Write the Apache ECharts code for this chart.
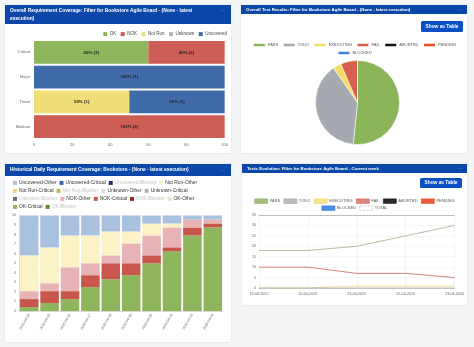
<!DOCTYPE html>
<html><head><meta charset="utf-8">
<script src="https://cdn.jsdelivr.net/npm/echarts@6/dist/echarts.min.js"></script>
<style>
html,body{margin:0;padding:0;background:#f4f5f7;width:474px;height:347px;overflow:hidden}
.p{position:absolute;background:#fff;box-shadow:0 0 1.5px rgba(0,0,0,0.18);border-radius:1px}
</style></head><body>
<div id="c1" class="p" style="left:5px;top:5px;width:226px;height:148px"></div>
<div id="c2" class="p" style="left:241px;top:5px;width:226px;height:148px"></div>
<div id="c3" class="p" style="left:5px;top:164px;width:226px;height:178px"></div>
<div id="c4" class="p" style="left:242px;top:164px;width:225px;height:141px"></div>
<script>
// ---------- data ----------
const covCategories = ['Critical', 'Major', 'Trivial', 'Medium'];
const covOK        = [60, 0, 0, 0];
const covNOK       = [40, 0, 0, 100];
const covNotRun    = [0, 0, 50, 0];
const covUnknown   = [0, 0, 0, 0];
const covUncovered = [0, 100, 50, 0];
const cntOK        = [3, 0, 0, 0];
const cntNOK       = [2, 0, 0, 2];
const cntNotRun    = [0, 0, 1, 0];
const cntUnknown   = [0, 0, 0, 0];
const cntUncovered = [0, 1, 1, 0];
const covTicks = [0, 20, 40, 60, 80, 100];

const testStatus = ['PASS', 'TODO', 'EXECUTING', 'FAIL', 'ABORTED', 'PENDING', 'BLOCKED'];
const testCounts = [16, 12, 1, 2, 0, 0, 0];

const histDates = ['2020-04-14', '2020-04-15', '2020-04-16', '2020-04-17', '2020-04-18',
                   '2020-04-19', '2020-04-20', '2020-04-21', '2020-04-22', '2020-04-23'];
const histOKCritical      = [0.42, 0.83, 1.25, 2.5, 3.33, 3.75, 5, 6.25, 7.92, 8.75];
const histNOKCritical     = [0.83, 1.25, 0.83, 1.25, 1.67, 1.25, 0.83, 0.42, 0.83, 0.42];
const histNOKOther        = [0.83, 0.83, 2.5, 1.25, 0.83, 2.08, 2.08, 2.08, 0.83, 0.42];
const histNotRunOther     = [3.75, 3.75, 3.33, 2.92, 2.5, 1.25, 1.25, 0.42, 0, 0];
const histUncoveredOther  = [4.17, 3.33, 2.08, 2.08, 1.67, 1.67, 0.83, 0.83, 0.42, 0.42];

const evoDates = ['19-04-2020', '20-04-2020', '21-04-2020', '22-04-2020', '23-04-2020'];
const evoPass      = [18, 18, 20, 25, 30];
const evoFail      = [10, 10, 7, 7, 5];
const evoExecuting = [0, 0, 1, 1, 1];
const evoTodo      = [0, 0, 0, 0, 0];

// ---------- styles ----------
const FF = '"Liberation Sans", Arial, Helvetica, sans-serif';
const HEAD = '#0b47a8';
const BTN = '#0a4fc4';

function header(w, h, lines, fs, ys) {
  const els = [{type: 'rect', silent: true, shape: {x: 0, y: 0, width: w, height: h}, style: {fill: HEAD}}];
  lines.forEach((t, i) => els.push({type: 'text', silent: true, x: 5, y: ys[i],
    style: {text: t, fill: '#fff', fontSize: fs, fontWeight: 'bold', fontFamily: FF, verticalAlign: 'middle'}}));
  els.push({type: 'text', silent: true, x: w - 5, y: ys[0],
    style: {text: '···', fill: '#9db3dd', fontSize: fs + 1, fontFamily: FF, align: 'right', verticalAlign: 'middle'}});
  return els;
}
function button(x, y, w, h, fs) {
  return [
    {type: 'rect', silent: true, shape: {x: x, y: y, width: w, height: h, r: 1.5}, style: {fill: BTN}},
    {type: 'text', silent: true, x: x + w / 2, y: y + h / 2,
     style: {text: 'Show as Table', fill: '#fff', fontSize: fs, fontWeight: 'bold', fontFamily: FF, align: 'center', verticalAlign: 'middle'}}
  ];
}

// ---------- panel 1 ----------
const covColors = {OK: '#8fb65c', NOK: '#cd5e55', 'Not Run': '#f0df79', Unknown: '#b4b4b4', Uncovered: '#3f6ca8'};
const covSets = [['OK', covOK, cntOK], ['NOK', covNOK, cntNOK], ['Not Run', covNotRun, cntNotRun],
                 ['Unknown', covUnknown, cntUnknown], ['Uncovered', covUncovered, cntUncovered]];
const c1 = echarts.init(document.getElementById('c1'));
c1.setOption({
  animation: false,
  textStyle: {fontFamily: FF},
  graphic: header(226, 19, ['Overall Requirement Coverage: Filter for Bookstore Agile Board - (None - latest', 'execution)'], 4.85, [5.8, 14]),
  legend: {right: 4, top: 26.6, padding: 0, itemWidth: 4, itemHeight: 4, itemGap: 4.5, icon: 'rect',
           textStyle: {fontSize: 4.5, color: '#444', padding: [0, 0, 0, -2.5]}, data: covSets.map(s => s[0])},
  grid: {left: 29, right: 5, top: 35, bottom: 14},
  xAxis: {type: 'value', min: covTicks[0], max: covTicks[covTicks.length - 1], interval: 20,
          axisLine: {show: false}, axisTick: {show: false}, splitLine: {show: false},
          axisLabel: {fontSize: 4, color: '#666', margin: 4}},
  yAxis: {type: 'category', data: covCategories, inverse: true,
          axisLine: {show: false}, axisTick: {show: false},
          axisLabel: {fontSize: 4, color: '#666', margin: 4}},
  series: covSets.map(s => ({
    name: s[0], type: 'bar', stack: 'cov', barCategoryGap: '9%',
    itemStyle: {color: covColors[s[0]]},
    data: s[1],
    label: {show: true, position: 'inside', fontSize: 4.4, fontWeight: 'bold', color: '#222',
            formatter: p => p.value > 0 ? p.value + '% (' + s[2][p.dataIndex] + ')' : ''}
  }))
});

// ---------- panel 2 ----------
const pieColors = ['#8cb55a', '#a6a9b0', '#f3dd63', '#d9604f', '#111111', '#ea4f22', '#3a86e0'];
const legendCommon = {left: 'center', padding: 0, itemWidth: 13, itemHeight: 4.5, itemGap: 3.5, icon: 'rect',
                      textStyle: {fontSize: 4, color: '#555', padding: [0, 0, 0, -3]}};
const c2 = echarts.init(document.getElementById('c2'));
c2.setOption({
  animation: false,
  textStyle: {fontFamily: FF},
  graphic: header(226, 9, ['Overall Test Results: Filter for Bookstore Agile Board - (None - latest execution)'], 4.35, [4.6])
           .concat(button(180, 16, 42, 11, 4.8)),
  legend: [Object.assign({top: 36.7, data: testStatus.slice(0, 6)}, legendCommon),
           Object.assign({top: 44.7, data: testStatus.slice(6)}, legendCommon)],
  series: [{
    type: 'pie', center: [116.5, 97.5], radius: 42, startAngle: 90, clockwise: true,
    label: {show: false}, labelLine: {show: false},
    itemStyle: {borderColor: '#fff', borderWidth: 0.5},
    data: testStatus.map((n, i) => ({name: n, value: testCounts[i], itemStyle: {color: pieColors[i]}}))
  }]
});

// ---------- panel 3 ----------
const histLegend = ['Uncovered-Other', 'Uncovered-Critical', 'Uncovered-Blocker',
  'Not Run-Other', 'Not Run-Critical', 'Not Run-Blocker',
  'Unknown-Other', 'Unknown-Critical', 'Unknown-Blocker',
  'NOK-Other', 'NOK-Critical', 'NOK-Blocker',
  'OK-Other', 'OK-Critical', 'OK-Blocker'];
const histColors = {
  'Uncovered-Other': '#a9c0de', 'Uncovered-Critical': '#3e6ba7', 'Uncovered-Blocker': '#1e3561',
  'Not Run-Other': '#fbf2c6', 'Not Run-Critical': '#f0dc6e', 'Not Run-Blocker': '#c2b25a',
  'Unknown-Other': '#dddddd', 'Unknown-Critical': '#b3b3b3', 'Unknown-Blocker': '#6e6e6e',
  'NOK-Other': '#e8b3b6', 'NOK-Critical': '#c9564d', 'NOK-Blocker': '#8e2b26',
  'OK-Other': '#e3ecc9', 'OK-Critical': '#8fb65c', 'OK-Blocker': '#5d8a33'};
const histData = {
  'OK-Critical': histOKCritical, 'NOK-Critical': histNOKCritical, 'NOK-Other': histNOKOther,
  'Not Run-Other': histNotRunOther, 'Uncovered-Other': histUncoveredOther};
const histStackOrder = histLegend.slice().reverse();
const c3 = echarts.init(document.getElementById('c3'));
c3.setOption({
  animation: false,
  textStyle: {fontFamily: FF},
  graphic: header(226, 12, ['Historical Daily Requirement Coverage: Bookstore - (None - latest execution)'], 4.9, [6]),
  legend: {left: 8, top: 16.4, padding: 0, width: 200, itemWidth: 4, itemHeight: 4, itemGap: 3, icon: 'rect',
           textStyle: {fontSize: 4.9, color: '#333', padding: [0, 0, 0, -3]},
           data: histLegend.map(n => n.indexOf('Blocker') >= 0 ? {name: n, textStyle: {color: '#c4c4c4'}} : {name: n})},
  grid: {left: 14, right: 8, top: 51.5, bottom: 31},
  xAxis: {type: 'category', data: histDates,
          axisLine: {lineStyle: {color: '#bbb', width: 0.5}}, axisTick: {show: false},
          axisLabel: {fontSize: 3.5, color: '#666', rotate: 60, margin: 3}},
  yAxis: {type: 'value', min: 0, max: 10, interval: 1,
          axisLine: {show: true, lineStyle: {color: '#bbb', width: 0.5}}, axisTick: {show: false},
          splitLine: {lineStyle: {color: '#eee', width: 0.5}},
          axisLabel: {fontSize: 3.5, color: '#666', margin: 3}},
  series: histStackOrder.map(n => ({
    name: n, type: 'bar', stack: 'h', barCategoryGap: '9%',
    itemStyle: {color: histColors[n]},
    data: histData[n] || []
  }))
});

// ---------- panel 4 ----------
const evoNames = ['PASS', 'TODO', 'EXECUTING', 'FAIL', 'ABORTED', 'PENDING', 'BLOCKED', 'TOTAL'];
const evoFill = ['#a5bf7d', '#bcbcbc', '#f6e48e', '#e0857a', '#2a2a2a', '#f25c3b', '#4a90e6', '#ffffff'];
const evoBorder = ['#8aa862', '#a3a3a3', '#ecd46a', '#cf6a5e', '#111111', '#e0452a', '#2f78d0', '#bbbbbb'];
const evoSeriesData = {PASS: evoPass, TODO: evoTodo, EXECUTING: evoExecuting, FAIL: evoFail};
const evoLineColor = {PASS: '#a8ab8d', TODO: '#aaaaaa', EXECUTING: '#f1dc7a', FAIL: '#c8675b'};
const evoDrawOrder = ['ABORTED', 'PENDING', 'BLOCKED', 'TOTAL', 'EXECUTING', 'FAIL', 'PASS', 'TODO'];
const evoLegendItems = evoNames.map((n, i) => ({name: n, itemStyle: {color: evoFill[i], borderColor: evoBorder[i], borderWidth: 0.6,
                   borderType: n === 'TOTAL' ? 'dashed' : 'solid'}}));
const c4 = echarts.init(document.getElementById('c4'));
c4.setOption({
  animation: false,
  textStyle: {fontFamily: FF},
  graphic: header(225, 9, ['Tests Evolution: Filter for Bookstore Agile Board - Current week'], 4.35, [4.6])
           .concat(button(178, 14, 42, 10, 4.8)),
  legend: [Object.assign({top: 34.6, data: evoLegendItems.slice(0, 6)}, legendCommon),
           Object.assign({top: 41.6, data: evoLegendItems.slice(6)}, legendCommon)],
  grid: {left: 17, right: 12, top: 51, bottom: 17},
  xAxis: [{type: 'category', data: evoDates, boundaryGap: false,
           axisLine: {lineStyle: {color: '#999', width: 0.5}}, axisTick: {show: false},
           splitLine: {show: true, lineStyle: {color: '#e8e8e8', width: 0.5}},
           axisLabel: {fontSize: 3.7, color: '#666', margin: 4, showMinLabel: true, showMaxLabel: true, interval: 0}},
          {type: 'category', data: evoDates, boundaryGap: false, position: 'top',
           axisLine: {lineStyle: {color: '#999', width: 0.6, type: 'dotted'}}, axisTick: {show: false},
           axisLabel: {show: false}, splitLine: {show: false}}],
  yAxis: {type: 'value', min: 0, max: 35, interval: 5,
          axisLine: {show: false}, axisTick: {show: false},
          splitLine: {lineStyle: {color: '#ececec', width: 0.5}},
          axisLabel: {fontSize: 3.7, color: '#666', margin: 3}},
  series: evoDrawOrder.map(n => ({
    name: n, type: 'line', showSymbol: false, symbol: 'none',
    itemStyle: {color: evoFill[evoNames.indexOf(n)]},
    lineStyle: {color: evoLineColor[n] || '#999', width: 0.8},
    data: evoSeriesData[n] || []
  }))
});
</script>
</body></html>
